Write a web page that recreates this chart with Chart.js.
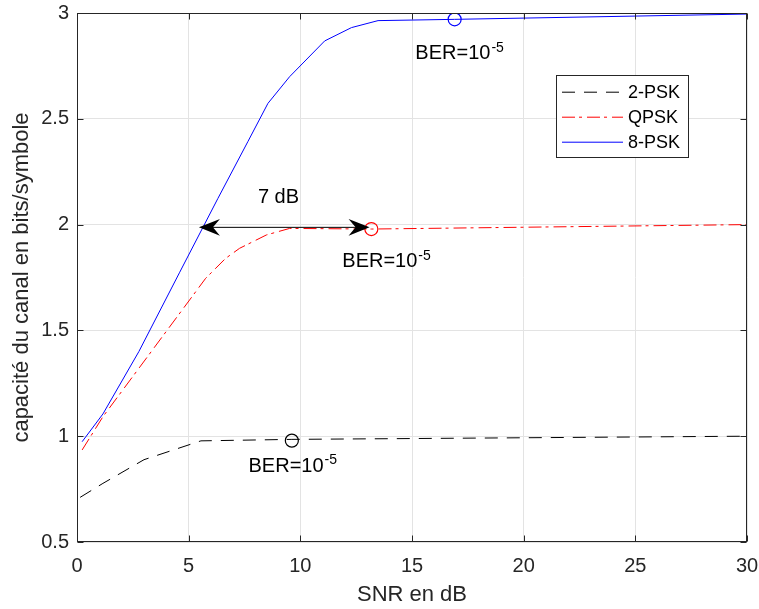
<!DOCTYPE html>
<html>
<head>
<meta charset="utf-8">
<script src="https://cdn.jsdelivr.net/npm/chart.js@4/dist/chart.umd.min.js"></script>
<style>
  html, body { margin: 0; padding: 0; background: #fff; }
  canvas { display: block; }
</style>
</head>
<body>
<canvas id="capChart" width="759" height="609"></canvas>
<script>
// courbes (SNR en dB, capacité en bits/symbole)
const snr2psk = [0.14, 1.16, 3.0, 5.55, 9.62, 30];
const cap2psk = [0.711, 0.777, 0.889, 0.978, 0.985, 1.0];

const snrQpsk = [0.23, 1.16, 5.76, 6.65, 7.28, 8.48, 9.52, 13.18, 30];
const capQpsk = [0.935, 1.092, 1.746, 1.84, 1.888, 1.951, 1.982, 1.979, 2.0];

const snr8psk = [0.23, 1.16, 2.77, 4.6, 6.31, 7.65, 8.55, 9.52, 11.09, 12.29, 13.48, 16.9, 30];
const cap8psk = [0.974, 1.105, 1.40, 1.775, 2.124, 2.392, 2.573, 2.699, 2.868, 2.931, 2.964, 2.97, 2.995];

// points BER = 10^-5 et leurs étiquettes
const berSnr = [9.62, 13.18, 16.91];
const berCap = [0.979, 1.979, 2.97];
const berLabelSnr = [7.68, 11.88, 15.15];
const berLabelCap = [0.833, 1.798, 2.781];

// flèche "7 dB"
const arrowSnr = [5.46, 13.1];
const arrowCap = 1.987;
const gapLabelSnr = 8.1;
const gapLabelCap = 2.10;

const seriesNames = ['2-PSK', 'QPSK', '8-PSK'];
const seriesColors = ['#000000', '#ff0000', '#0000ff'];
const seriesDash = [[13, 9], [13, 4, 3, 5], []];

const xTicks = [0, 5, 10, 15, 20, 25, 30];
const yTicks = [0.5, 1, 1.5, 2, 2.5, 3];

const FONT = "'Liberation Sans', Arial, Helvetica, sans-serif";
const TXT = '#262626';

const toPts = (xs, ys) => xs.map((x, i) => ({ x: x, y: ys[i] }));

const lineSet = (i, xs, ys) => ({
    label: seriesNames[i],
    data: toPts(xs, ys),
    borderColor: seriesColors[i],
    borderDash: seriesDash[i],
    borderWidth: 1,
    pointRadius: 0,
    tension: 0,
    fill: false,
    showLine: true,
    order: 1
});

const markerSet = (i) => ({
    label: 'BER ' + seriesNames[i],
    data: [{ x: berSnr[i], y: berCap[i] }],
    borderColor: seriesColors[i],
    backgroundColor: 'rgba(0,0,0,0)',
    pointStyle: 'circle',
    pointRadius: 6.5,
    borderWidth: 1.2,
    showLine: false,
    order: 0
});

// cadre façon MATLAB, flèche, textes et légende
const decorPlugin = {
    id: 'decor',
    afterDatasetsDraw(chart) {
        const ctx = chart.ctx;
        const xs = chart.scales.x, ys = chart.scales.y;
        const a = chart.chartArea;

        // flèche double
        const ay = ys.getPixelForValue(arrowCap);
        const x1 = xs.getPixelForValue(arrowSnr[0]);
        const x2 = xs.getPixelForValue(arrowSnr[1]);
        ctx.save();
        ctx.strokeStyle = '#000';
        ctx.fillStyle = '#000';
        ctx.lineWidth = 1;
        ctx.beginPath();
        ctx.moveTo(x1 + 10, ay);
        ctx.lineTo(x2 - 10, ay);
        ctx.stroke();
        const head = (tx, dir) => {
            ctx.beginPath();
            ctx.moveTo(tx, ay);
            ctx.lineTo(tx + dir * 21, ay - 8.3);
            ctx.lineTo(tx + dir * 14, ay);
            ctx.lineTo(tx + dir * 21, ay + 8.3);
            ctx.closePath();
            ctx.fill();
        };
        head(x1, 1);
        head(x2, -1);

        // textes
        ctx.fillStyle = '#000';
        ctx.textBaseline = 'alphabetic';
        ctx.textAlign = 'left';
        ctx.font = '20px ' + FONT;
        ctx.fillText('7 dB', xs.getPixelForValue(gapLabelSnr), ys.getPixelForValue(gapLabelCap));
        berLabelSnr.forEach((s, i) => {
            const px = xs.getPixelForValue(s);
            const py = ys.getPixelForValue(berLabelCap[i]);
            ctx.font = '20px ' + FONT;
            ctx.fillText('BER=10', px, py);
            const w = ctx.measureText('BER=10').width;
            ctx.font = '14px ' + FONT;
            ctx.fillText('-5', px + w + 1, py - 7.5);
        });
        ctx.restore();

        // boîte et graduations intérieures
        ctx.save();
        ctx.strokeStyle = TXT;
        ctx.lineWidth = 1;
        const L = Math.round(a.left) + 0.5, R = Math.round(a.right) - 0.5;
        const T = Math.round(a.top) + 0.5, B = Math.round(a.bottom) - 0.5;
        ctx.strokeRect(L, T, R - L, B - T);
        ctx.beginPath();
        xTicks.forEach(v => {
            const p = Math.round(xs.getPixelForValue(v)) + 0.5;
            ctx.moveTo(p, B); ctx.lineTo(p, B - 6);
            ctx.moveTo(p, T); ctx.lineTo(p, T + 6);
        });
        yTicks.forEach(v => {
            const p = Math.round(ys.getPixelForValue(v)) + 0.5;
            ctx.moveTo(L, p); ctx.lineTo(L + 6, p);
            ctx.moveTo(R, p); ctx.lineTo(R - 6, p);
        });
        ctx.stroke();
        ctx.restore();

        // légende
        ctx.save();
        const bx = 556.5, by = 75.5, bw = 132, bh = 82;
        ctx.fillStyle = '#fff';
        ctx.fillRect(bx, by, bw, bh);
        ctx.strokeStyle = TXT;
        ctx.lineWidth = 1;
        ctx.strokeRect(bx, by, bw, bh);
        const rows = [91.7, 116.7, 141.7];
        ctx.font = '18px ' + FONT;
        ctx.textBaseline = 'middle';
        ctx.textAlign = 'left';
        seriesNames.forEach((name, i) => {
            ctx.strokeStyle = seriesColors[i];
            ctx.setLineDash(seriesDash[i]);
            ctx.beginPath();
            ctx.moveTo(562, rows[i] + 0.5);
            ctx.lineTo(623, rows[i] + 0.5);
            ctx.stroke();
            ctx.setLineDash([]);
            ctx.fillStyle = '#000';
            ctx.fillText(name, 628, rows[i] + 1);
        });
        ctx.restore();
    }
};

function initChart() {
    Chart.defaults.font.family = FONT;
    Chart.defaults.color = TXT;

    const datasets = [
        lineSet(0, snr2psk, cap2psk),
        lineSet(1, snrQpsk, capQpsk),
        lineSet(2, snr8psk, cap8psk),
        markerSet(0), markerSet(1), markerSet(2)
    ];

    new Chart(document.getElementById('capChart'), {
        type: 'scatter',
        data: { datasets: datasets },
        options: {
            responsive: false,
            animation: false,
            layout: { padding: { top: 13, right: 12, left: 0, bottom: 0 } },
            plugins: { legend: { display: false }, tooltip: { enabled: false } },
            scales: {
                x: {
                    type: 'linear', min: 0, max: 30,
                    afterBuildTicks: s => { s.ticks = xTicks.map(v => ({ value: v })); },
                    afterFit: s => { s.height = 67; s.paddingLeft = 0; s.paddingRight = 0; },
                    ticks: { font: { size: 20 }, color: TXT, padding: 12, maxRotation: 0, callback: v => String(v) },
                    grid: { color: '#e3e3e3', drawTicks: false, lineWidth: 1 },
                    border: { display: false },
                    title: { display: true, text: 'SNR en dB', font: { size: 22 }, color: TXT, padding: { top: 0, bottom: 1 } }
                },
                y: {
                    type: 'linear', min: 0.5, max: 3,
                    afterBuildTicks: s => { s.ticks = yTicks.map(v => ({ value: v })); },
                    afterFit: s => { s.width = 77; s.paddingTop = 0; s.paddingBottom = 0; },
                    ticks: { font: { size: 20 }, color: TXT, padding: 8, callback: v => String(v) },
                    grid: { color: '#e3e3e3', drawTicks: false, lineWidth: 1 },
                    border: { display: false },
                    title: { display: true, text: 'capacité du canal en bits/symbole', font: { size: 22 }, color: TXT, padding: { top: 9, bottom: 0 } }
                }
            }
        },
        plugins: [decorPlugin]
    });
}

window.onload = initChart;
</script>
</body>
</html>
